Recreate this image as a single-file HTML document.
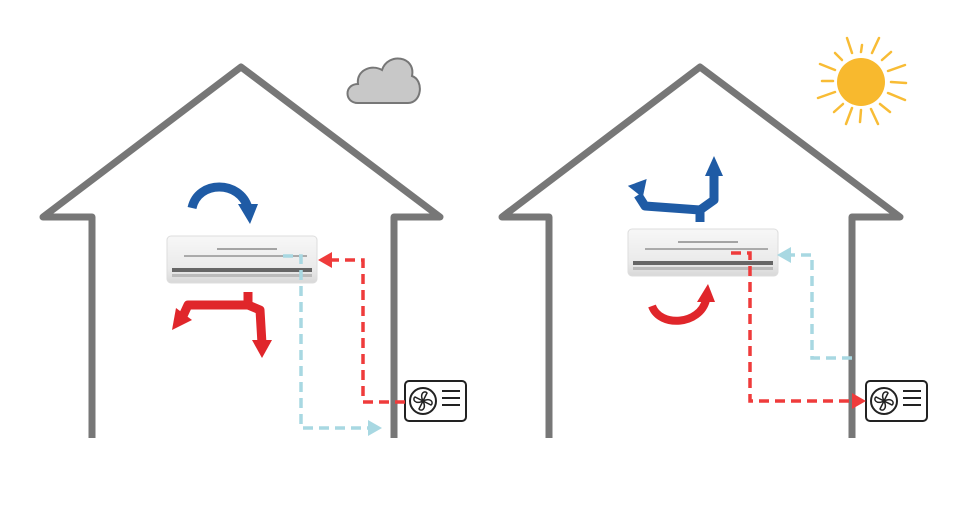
<!DOCTYPE html><html><head><style>body{margin:0;background:#fff}svg{display:block}</style></head><body>
<svg width="965" height="512" viewBox="0 0 965 512" xmlns="http://www.w3.org/2000/svg">
<defs>
<linearGradient id="ac" x1="0" y1="0" x2="0" y2="1"><stop offset="0" stop-color="#f7f7f7"/><stop offset="0.7" stop-color="#eaeaea"/><stop offset="1" stop-color="#d8d8d8"/></linearGradient>
<g id="acu"><rect x="0" y="0" width="150" height="47" rx="4" fill="url(#ac)" stroke="#ddd"/>
<line x1="50" y1="13" x2="110" y2="13" stroke="#555" stroke-width="1"/><line x1="17" y1="20" x2="140" y2="20" stroke="#666" stroke-width="1"/>
<rect x="5" y="32" width="140" height="4" fill="#666"/><rect x="5" y="38" width="140" height="3" fill="#bbb"/></g>
<g id="out"><rect x="0" y="0" width="61" height="40" rx="4" fill="#fff" stroke="#222" stroke-width="2"/>
<circle cx="18" cy="20" r="13" fill="none" stroke="#222" stroke-width="2"/>
<path d="M18 20 C14 12 20 9 22 12 Z M18 20 C26 16 29 22 26 24 Z M18 20 C22 28 16 31 14 28 Z M18 20 C10 24 7 18 10 16 Z" fill="none" stroke="#222" stroke-width="1.5"/>
<line x1="37" y1="10" x2="55" y2="10" stroke="#222" stroke-width="2"/><line x1="37" y1="17" x2="55" y2="17" stroke="#222" stroke-width="2"/><line x1="37" y1="24" x2="55" y2="24" stroke="#222" stroke-width="2"/></g>
</defs>
<g fill="none" stroke="#777" stroke-width="7" stroke-linejoin="round">
<polyline points="92,438 92,217 43,217 241,67 440,217 394,217 394,438"/>
<polyline points="549,438 549,217 502,217 700,67 900,217 852,217 852,438"/>
</g>
<!-- cloud -->
<path d="M358 103 C344 103 344 84 358 84 C356 70 372 64 382 70 C388 52 416 56 412 76 C424 80 422 103 408 103 Z" fill="#c8c8c8" stroke="#777" stroke-width="2"/>
<!-- sun -->
<circle cx="861" cy="82" r="24" fill="#f8b92e"/>
<g stroke="#f8bc35" stroke-width="2.5" stroke-linecap="round">
<line x1="861" y1="52" x2="862" y2="45"/><line x1="852" y1="53" x2="847" y2="38"/><line x1="872" y1="53" x2="879" y2="38"/>
<line x1="842" y1="60" x2="835" y2="53"/><line x1="882" y1="60" x2="891" y2="52"/>
<line x1="835" y1="70" x2="820" y2="64"/><line x1="888" y1="71" x2="905" y2="65"/>
<line x1="833" y1="81" x2="822" y2="81"/><line x1="891" y1="82" x2="906" y2="83"/>
<line x1="835" y1="92" x2="818" y2="98"/><line x1="888" y1="93" x2="905" y2="100"/>
<line x1="843" y1="104" x2="834" y2="112"/><line x1="880" y1="104" x2="890" y2="112"/>
<line x1="852" y1="108" x2="846" y2="124"/><line x1="861" y1="110" x2="860" y2="122"/><line x1="871" y1="109" x2="878" y2="124"/>
</g>
<use href="#acu" x="167" y="236"/><use href="#acu" x="628" y="229"/>
<use href="#out" x="405" y="381"/><use href="#out" x="866" y="381"/>
<g fill="none" stroke-width="3.5" stroke-dasharray="10,6">
<polyline points="405,402 363,402 363,260 330,260" stroke="#ef3b3b"/>
<polyline points="283,256 301,256 301,428 370,428" stroke="#a8d8e2"/>
<polyline points="852,358 812,358 812,255 790,255" stroke="#a8d8e2"/>
<polyline points="731,253 750,253 750,401 855,401" stroke="#ef3b3b"/>
</g>
<polygon points="318,260 332,252 332,268" fill="#ef3b3b"/>
<polygon points="382,428 368,420 368,436" fill="#a8d8e2"/>
<polygon points="777,255 791,247 791,263" fill="#a8d8e2"/>
<polygon points="866,401 852,393 852,409" fill="#ef3b3b"/>
<path d="M192 208 C198 180 240 180 248 208" fill="none" stroke="#1f5ba5" stroke-width="9"/>
<polygon points="238,204 258,204 250,224" fill="#1f5ba5"/>
<path d="M248 292 L248 305 L188 305 L182 318 M248 305 L260 310 L262 344" fill="none" stroke="#e0262b" stroke-width="9" stroke-linejoin="round"/>
<polygon points="172,330 176,308 192,320" fill="#e0262b"/>
<polygon points="252,340 272,340 262,358" fill="#e0262b"/>
<path d="M700 222 L700 210 L714 200 L714 172 M700 210 L645 206 L638 195" fill="none" stroke="#1f5ba5" stroke-width="9" stroke-linejoin="round"/>
<polygon points="705,176 723,176 714,156" fill="#1f5ba5"/>
<polygon points="630,182 650,182 640,198" fill="#1f5ba5" transform="rotate(-20 640 190)"/>
<path d="M652 306 C660 328 700 325 706 300" fill="none" stroke="#e0262b" stroke-width="8"/>
<polygon points="697,302 715,302 708,284" fill="#e0262b"/>
</svg></body></html>
